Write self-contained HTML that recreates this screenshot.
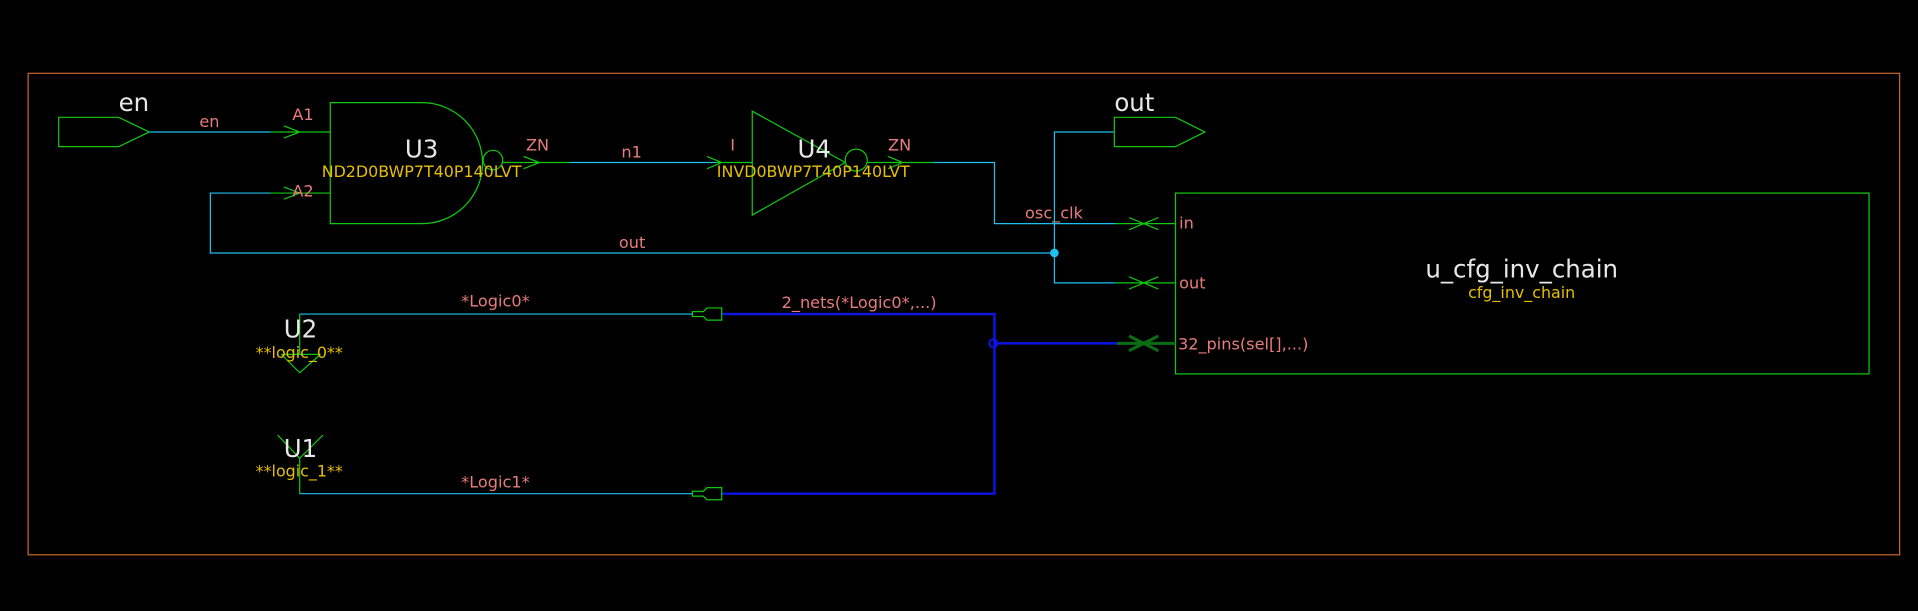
<!DOCTYPE html>
<html><head><meta charset="utf-8"><style>
html,body{margin:0;padding:0;background:#000;overflow:hidden}
svg{display:block}
text{font-family:"DejaVu Sans","Liberation Sans",sans-serif}
.w{fill:#e8e8e8;font-size:20px}
.p{fill:#e87c7c;font-size:13.2px}
.y{fill:#e6bf00;font-size:13px}
.g{stroke:#10c810;fill:none;stroke-width:1}
.c{stroke:#1ec0f0;fill:none;stroke-width:1}
</style></head><body>
<svg width="1918" height="611" viewBox="0 0 1568 500" preserveAspectRatio="none">
<rect width="1568" height="500" fill="#000"/>
<rect x="23" y="60" width="1530" height="394" fill="none" stroke="#c8642a" stroke-width="1"/>
<polygon class="g" points="48,96 97,96 122,108 97,120 48,120"/>
<text class="w" x="97" y="91">en</text>
<path class="c" d="M122,108H221"/>
<text class="p" x="163" y="104">en</text>
<path class="g" d="M221,108H270 M232,103L245,108L232,113"/>
<text class="p" x="239" y="98">A1</text>
<path class="c" d="M221,158H172V207H862"/>
<path class="g" d="M221,158H270 M232,153L245,158L232,163"/>
<text class="p" x="239" y="161">A2</text>
<text class="p" x="506" y="203">out</text>
<path class="g" d="M270,84H345A49.5,49.5 0 0 1 345,183H270Z"/>
<circle class="g" cx="403" cy="131" r="8"/>
<path class="g" d="M411,133H466 M428,128L441,133L428,138"/>
<text class="w" x="331" y="129">U3</text>
<text class="y" x="263" y="145">ND2D0BWP7T40P140LVT</text>
<text class="p" x="430" y="123">ZN</text>
<path class="c" d="M466,133H585"/>
<text class="p" x="508" y="129">n1</text>
<path class="g" d="M585,133H615 M578,128L590,133L578,138"/>
<text class="p" x="597" y="123">I</text>
<polygon class="g" points="615,91 691,133 615,176"/>
<circle class="g" cx="700" cy="131" r="9"/>
<path class="g" d="M709,133H763 M726,128L738,133L726,138"/>
<text class="w" x="652" y="129">U4</text>
<text class="y" x="586" y="145">INVD0BWP7T40P140LVT</text>
<text class="p" x="726" y="123">ZN</text>
<path class="c" d="M763,133H813V183H912"/>
<text class="p" x="838" y="179">osc_clk</text>
<path class="g" d="M912,183H961 M923,178L947,188 M923,188L947,178"/>
<path class="c" d="M911,108H862V231.5H912"/>
<circle cx="862" cy="207" r="3.5" fill="#1ec0f0"/>
<path class="g" d="M912,231.5H961 M923,226.5L947,236.5 M923,236.5L947,226.5"/>
<polygon class="g" points="911,96 961,96 985,108 961,120 911,120"/>
<text class="w" x="911" y="91">out</text>
<rect class="g" x="961" y="158" width="567" height="148"/>
<text class="p" x="964" y="187">in</text>
<text class="p" x="964" y="236">out</text>
<text class="p" x="963" y="286">32_pins(sel[],...)</text>
<text class="w" x="1244" y="227" text-anchor="middle">u_cfg_inv_chain</text>
<text class="y" x="1244" y="244" text-anchor="middle">cfg_inv_chain</text>
<path d="M590,257H813V404H590 M813,281H913" stroke="#0a14e6" stroke-width="2" fill="none"/>
<circle cx="812" cy="281" r="3.3" fill="none" stroke="#0a14e6" stroke-width="1.6"/>
<path d="M913,281H961 M923,275L947,287 M923,287L947,275" stroke="#0a6e14" stroke-width="2.5" fill="none"/>
<text class="p" x="639" y="252">2_nets(*Logic0*,...)</text>
<path class="g" d="M566,255H575L578,252H590V262H578L575,259H566Z"/>
<path class="g" d="M566,402H575L578,399H590V409H578L575,406H566Z"/>
<path class="c" d="M245,257H566"/>
<text class="p" x="377" y="251">*Logic0*</text>
<path class="g" d="M245,257V290 M230,290H262 M230,290L245,305L262,290"/>
<text class="w" x="232" y="276">U2</text>
<text class="y" x="209" y="293">**logic_0**</text>
<path class="c" d="M245,404H566"/>
<text class="p" x="377" y="399">*Logic1*</text>
<path class="g" d="M245,404V375 M227,356L245,375L264,356"/>
<text class="w" x="232" y="374">U1</text>
<text class="y" x="209" y="390">**logic_1**</text>
</svg>
</body></html>
